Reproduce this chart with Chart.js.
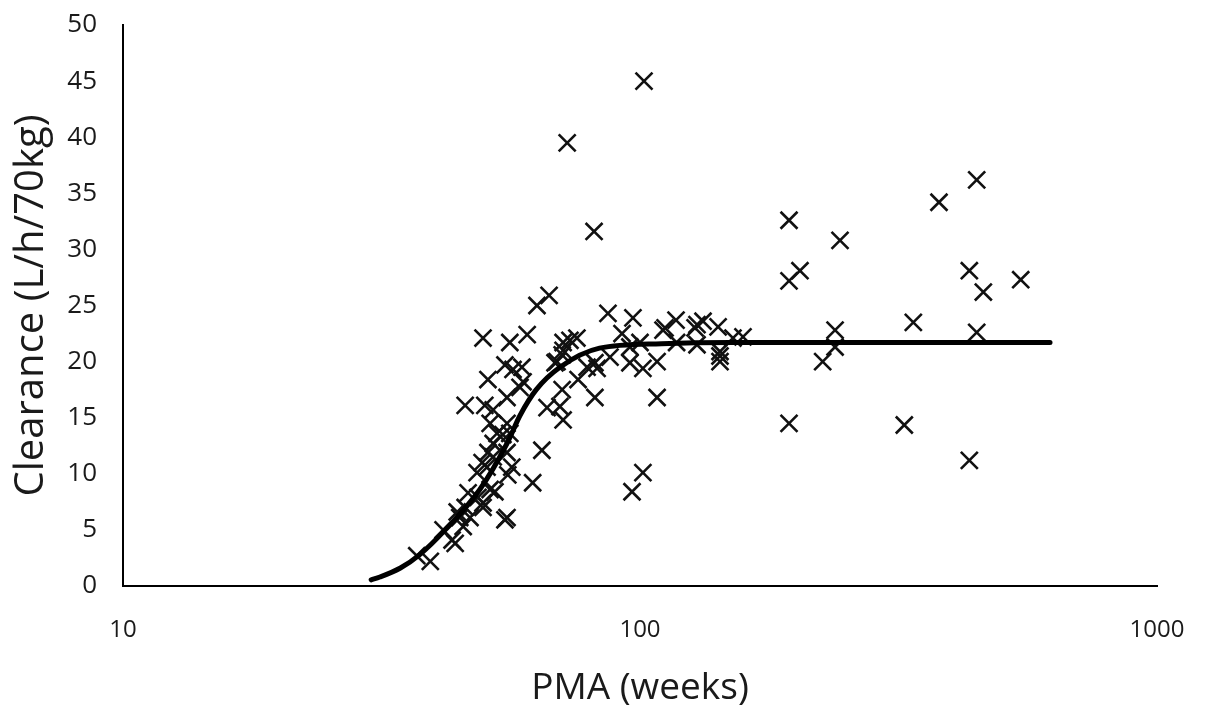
<!DOCTYPE html>
<html>
<head>
<meta charset="utf-8">
<script src="https://cdn.jsdelivr.net/npm/chart.js@4/dist/chart.umd.min.js"></script>
<style>
  body { margin: 0; background: #fff; }
  #wrap { width: 1213px; height: 713px; position: relative; }
</style>
</head>
<body>
<div id="wrap"><canvas id="clearanceChart"></canvas></div>
<script>
//Observed clearance values, PMA in weeks
const pmaWeeks = [37.0, 39.3, 41.6, 43.3, 43.9, 44.3, 45.9, 44.8, 45.5, 46.9,
  46.5, 48.6, 48.4, 49.5, 50.6, 51.3, 52.4, 49.7, 50.8, 52.0,
  54.3, 55.3, 56.5, 55.5, 54.8, 55.3, 52.0, 49.7, 45.9, 50.1,
  52.0, 51.3, 55.3, 52.9, 56.0, 55.3, 58.6, 50.8, 54.8, 56.8,
  49.7, 56.0, 60.5, 66.1, 70.0, 71.0, 71.0, 69.1, 71.0, 73.2,
  66.7, 63.2, 72.3, 101.8, 81.5, 64.6, 62.0, 101.3, 96.5, 68.5,
  70.7, 81.8, 87.5, 95.6, 101.3, 107.9, 59.1, 59.4, 75.9, 70.7,
  81.8, 107.9, 86.7, 96.9, 110.8, 75.5, 92.3, 117.4, 111.8, 128.9,
  132.4, 141.6, 158.2, 151.3, 100.0, 95.6, 117.7, 128.9, 142.8, 142.8,
  79.0, 82.6, 142.8, 127.8, 194.2, 243.7, 203.9, 194.2, 378.7, 448.0,
  433.5, 461.4, 545.0, 337.8, 238.4, 448.0, 238.4, 225.6, 194.2, 324.5, 433.5];

const clearance = [2.7, 2.2, 5.0, 4.1, 3.8, 6.6, 7.0, 6.1, 5.3, 6.1,
  8.3, 7.9, 10.1, 11.0, 10.6, 8.6, 8.4, 7.4, 11.9, 12.7,
  13.5, 11.9, 10.6, 9.9, 5.9, 6.1, 11.5, 7.0, 16.1, 16.1,
  15.7, 14.5, 14.5, 13.6, 13.6, 16.8, 17.7, 18.4, 19.7, 19.3,
  22.1, 21.7, 22.4, 15.9, 16.0, 14.8, 21.0, 20.0, 21.7, 21.9,
  25.9, 25.0, 39.5, 45.0, 31.6, 12.1, 9.2, 10.1, 8.4, 19.9,
  20.6, 19.9, 20.4, 19.9, 19.4, 20.0, 19.5, 18.2, 18.4, 17.5,
  16.8, 16.8, 24.3, 23.9, 22.8, 22.1, 22.5, 23.7, 23.0, 23.3,
  23.6, 23.1, 22.2, 22.1, 21.7, 21.3, 21.7, 21.5, 20.9, 20.0,
  19.5, 19.4, 20.5, 23.0, 32.6, 30.8, 28.1, 27.2, 34.2, 36.2,
  28.1, 26.2, 27.3, 23.5, 22.8, 22.6, 21.3, 20.0, 14.5, 14.35, 11.2];

//Model curve
const curvePma = [30.2, 31.4, 34.4, 37.5, 42, 49, 55.3, 58.6, 63, 70, 83.5, 110, 150, 300, 621];
const curveClearance = [0.55, 0.8, 1.6, 2.8, 5.0, 8.6, 12.7, 15.2, 17.5, 19.5, 21.2, 21.6, 21.7, 21.7, 21.7];

//Axis ticks
const xTicks = [10, 100, 1000];
const yTicks = [0, 5, 10, 15, 20, 25, 30, 35, 40, 45, 50];

const points = pmaWeeks.map((x, i) => ({ x: x, y: clearance[i] }));
const curve = curvePma.map((x, i) => ({ x: x, y: curveClearance[i] }));

new Chart(document.getElementById("clearanceChart"), {
  type: "scatter",
  data: {
    datasets: [
      {
        label: "Model",
        data: curve,
        showLine: true,
        borderColor: "#000",
        borderWidth: 5,
        borderCapStyle: "round",
        cubicInterpolationMode: "monotone",
        pointRadius: 0,
        fill: false,
      },
      {
        label: "Observed",
        data: points,
        pointStyle: "crossRot",
        pointRadius: 12,
        pointBorderWidth: 2.6,
        pointBorderColor: "#111",
        pointBackgroundColor: "#111",
      },
    ],
  },
  options: {
    responsive: true,
    maintainAspectRatio: false,
    animation: false,
    layout: { padding: { top: 25, right: 56, left: 0, bottom: 0 } },
    plugins: {
      legend: { display: false },
      tooltip: { enabled: false },
    },
    scales: {
      x: {
        type: "logarithmic",
        min: 10,
        max: 1000,
        afterBuildTicks: (scale) => {
          scale.ticks = xTicks.map((v) => ({ value: v }));
        },
        afterFit: (scale) => {
          scale.height = 127;
          scale.paddingLeft = 0;
          scale.paddingRight = 0;
        },
        grid: { display: false, drawTicks: false },
        border: { display: true, color: "#000", width: 2 },
        ticks: {
          color: "#1a1a1a",
          padding: 30,
          maxRotation: 0,
          autoSkip: false,
          font: { family: "Open Sans", size: 24 },
          callback: (v) => String(v),
        },
        title: {
          display: true,
          text: "PMA (weeks)",
          color: "#1a1a1a",
          font: { family: "Open Sans", size: 37 },
          padding: { top: 0, bottom: 2 },
        },
      },
      y: {
        min: 0,
        max: 50,
        afterBuildTicks: (scale) => {
          scale.ticks = yTicks.map((v) => ({ value: v }));
        },
        afterFit: (scale) => {
          //keep the plot top where the reference has it
          scale.width = 123;
          scale.paddingTop = 0;
          scale.paddingBottom = 0;
        },
        grid: { display: false, drawTicks: false },
        border: { display: true, color: "#000", width: 2 },
        ticks: {
          color: "#1a1a1a",
          padding: 26,
          font: { family: "Open Sans", size: 26 },
        },
        title: {
          display: true,
          text: "Clearance (L/h/70kg)",
          color: "#1a1a1a",
          font: { family: "Open Sans", size: 40 },
          padding: { top: 8, bottom: 0 },
        },
      },
    },
  },
});
</script>
</body>
</html>
